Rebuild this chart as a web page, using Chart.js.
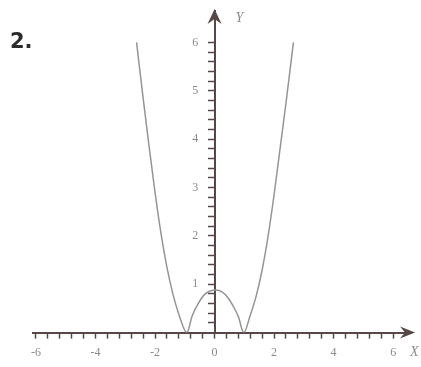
<!DOCTYPE html>
<html>
<head>
<meta charset="utf-8">
<script src="https://cdn.jsdelivr.net/npm/chart.js@4/dist/chart.umd.min.js"></script>
<style>
    html, body { margin: 0; padding: 0; background: #fff; }
    #wrap { position: relative; width: 421px; height: 367px; }
    #num { position: absolute; left: 10px; top: 29px; font: bold 21px "DejaVu Sans", sans-serif; color: #2b2b2b; }
</style>
</head>
<body>
<div id="wrap">
    <canvas id="graph" width="421" height="367"></canvas>
    <div id="num">2.</div>
</div>
<script>
// points
const curveX = [-2.62, -2.4, -2.2, -2.0, -1.8, -1.6, -1.4, -1.2, -0.93, -0.75, -0.55, -0.35, -0.15, 0.05, 0.25, 0.45, 0.65, 0.8, 0.98, 1.2, 1.4, 1.6, 1.8, 2.0, 2.2, 2.4, 2.65];
const curveY = [6.0, 4.85, 3.85, 2.9, 2.05, 1.35, 0.8, 0.38, 0, 0.35, 0.6, 0.78, 0.86, 0.88, 0.84, 0.72, 0.52, 0.33, 0, 0.36, 0.76, 1.3, 2.0, 2.85, 3.8, 4.75, 6.0];

// axis ticks: minor marks every 0.4 on x, 0.2 on y; labels on these values
const xLabelValues = [-6, -4, -2, 0, 2, 4, 6];
const yLabelValues = [1, 2, 3, 4, 5, 6];
const xMinorStep = 0.4;
const yMinorStep = 0.2;

const axisColor = "#574848";
const textColor = "#8a8a8a";

function minorTicks(from, to, step) {
    const out = [];
    const n = Math.round((to - from) / step);
    for (let i = 0; i <= n; i++) out.push({ value: Math.round((from + i * step) * 100) / 100 });
    return out;
}

function isLabel(v, list) {
    return list.some(l => Math.abs(l - v) < 1e-6);
}

const arrowPlugin = {
    id: "arrows",
    afterDraw(chart) {
        const ctx = chart.ctx;
        const xs = chart.scales.x, ys = chart.scales.y;
        const y0 = ys.getPixelForValue(0);
        const x0 = xs.getPixelForValue(0);
        ctx.save();
        ctx.fillStyle = axisColor;
        // x arrow
        let tx = xs.right + 4, ty = y0;
        ctx.beginPath();
        ctx.moveTo(tx, ty);
        ctx.lineTo(tx - 15, ty - 6);
        ctx.lineTo(tx - 10, ty);
        ctx.lineTo(tx - 15, ty + 6);
        ctx.closePath();
        ctx.fill();
        // y arrow
        tx = x0; ty = ys.top - 2;
        ctx.beginPath();
        ctx.moveTo(tx, ty);
        ctx.lineTo(tx - 7, ty + 15);
        ctx.lineTo(tx, ty + 10);
        ctx.lineTo(tx + 7, ty + 15);
        ctx.closePath();
        ctx.fill();
        // axis names
        ctx.fillStyle = textColor;
        ctx.font = "italic 14px 'Liberation Serif'";
        ctx.textBaseline = "middle";
        ctx.textAlign = "left";
        ctx.fillText("X", xs.right - 1, y0 + 20);
        ctx.fillText("Y", x0 + 21, ys.top + 7);
        ctx.restore();
    }
};

const ctx = document.getElementById("graph").getContext("2d");

const yRange = { min: 0, max: 6.65 };

new Chart(ctx, {
    type: "line",
    data: {
        datasets: [{
            data: curveX.map((x, i) => ({ x: x, y: curveY[i] })),
            borderColor: "#959595",
            borderWidth: 1.5,
            pointRadius: 0,
            fill: false,
            cubicInterpolationMode: "monotone"
        }]
    },
    options: {
        responsive: false,
        animation: false,
        layout: { padding: { left: 33, right: 10, top: 11, bottom: 0 } },
        plugins: { legend: { display: false }, tooltip: { enabled: false } },
        scales: {
            x: {
                type: "linear",
                min: -6.1,
                max: 6.6,
                position: "bottom",
                border: { color: axisColor, width: 2 },
                grid: { drawOnChartArea: false, drawTicks: true, tickLength: 6, tickColor: axisColor, tickWidth: 1.5 },
                afterBuildTicks: scale => { scale.ticks = minorTicks(-6, 6, xMinorStep); },
                ticks: {
                    autoSkip: false,
                    maxRotation: 0,
                    padding: 7,
                    color: textColor,
                    font: { family: "Liberation Serif", size: 12 },
                    callback: v => isLabel(v, xLabelValues) ? String(Math.round(v)) : ""
                }
            },
            // axis line and tick marks through x = 0
            y: {
                type: "linear",
                min: yRange.min,
                max: yRange.max,
                position: { x: 0 },
                border: { color: axisColor, width: 2 },
                grid: { drawOnChartArea: false, drawTicks: true, tickLength: 6, tickColor: axisColor, tickWidth: 1.5 },
                afterBuildTicks: scale => { scale.ticks = minorTicks(yMinorStep, 6, yMinorStep); },
                ticks: { autoSkip: false, callback: () => "" }
            },
            // labels for the y axis, set a little to the left of it
            yLabels: {
                type: "linear",
                min: yRange.min,
                max: yRange.max,
                position: { x: -0.55 },
                border: { display: false },
                grid: { display: false },
                afterBuildTicks: scale => { scale.ticks = yLabelValues.map(v => ({ value: v })); },
                ticks: {
                    autoSkip: false,
                    color: textColor,
                    font: { family: "Liberation Serif", size: 12 },
                    callback: v => String(v)
                }
            }
        }
    },
    plugins: [arrowPlugin]
});
</script>
</body>
</html>
